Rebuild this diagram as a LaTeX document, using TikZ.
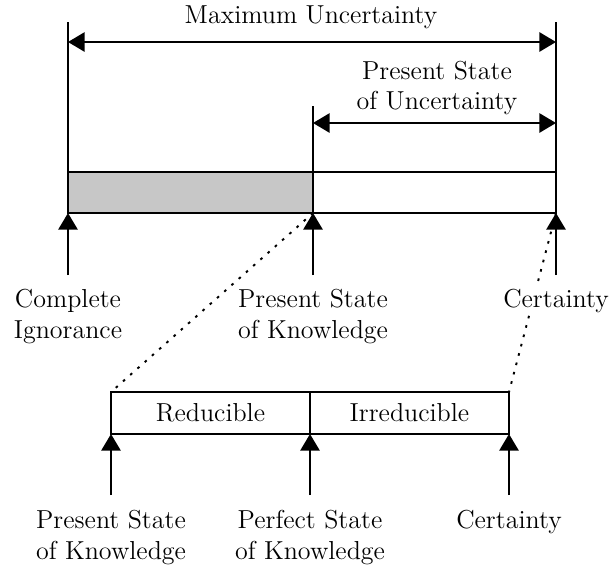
\documentclass[tikz,border=0pt]{standalone}
\usetikzlibrary{arrows.meta,positioning}
\tikzset{
  bar/.style={draw, line width=1.1pt},
  tick/.style={line width=1.1pt},
  span/.style={line width=1.1pt, {Triangle[length=9.5pt,width=11pt]}-{Triangle[length=9.5pt,width=11pt]}},
  up/.style={line width=1.1pt, -{Triangle[length=9.5pt,width=11pt]}},
  zoomline/.style={line width=1.1pt, dash pattern=on 1.5pt off 4pt},
  lbl/.style={align=center, font=\fontsize{14.8}{17.5}\selectfont, inner sep=1pt, fill=white},
}
\begin{document}
\begin{tikzpicture}[x=0.02cm,y=-0.02cm]
      \useasboundingbox (0,0) rectangle (609,565);
      % upper bar
      \coordinate (ci) at (68,213);
      \coordinate (pk) at (313,213);
      \coordinate (ce) at (556,213);
      \fill[black!22] (68,172) rectangle (pk);
      \draw[bar] (68,172) rectangle (ce);
      \draw[bar] (313,172) -- (pk);
      % dimension lines
      \coordinate (ml) at (68,22);
      \coordinate (mr) at (556,22);
      \coordinate (pm) at (313,106);
      \draw[tick] (68,172) -- (ml);
      \draw[tick] (556,172) -- (mr);
      \draw[tick] (313,172) -- (pm);
      \draw[span] (68,42) -- (556,42);
      \draw[span] (313,123) -- (556,123);
      \node[lbl] (maxunc) at (311,17) {Maximum Uncertainty};
      \node[lbl] (presunc) at (437,88) {Present State\\of Uncertainty};
      % lower bar
      \coordinate (lpk) at (111,434);
      \coordinate (lpf) at (310,434);
      \coordinate (lce) at (509,434);
      \coordinate (ltl) at (111,392);
      \coordinate (ltr) at (509,392);
      \draw[zoomline] (pk) -- (ltl);
      \draw[zoomline] (ce) -- (ltr);
      \draw[bar] (ltl) rectangle (lce);
      \draw[bar] (310,392) -- (lpf);
      \node[lbl] (reduc) at (210.5,413) {Reducible};
      \node[lbl] (irreduc) at (409.5,413) {Irreducible};
      % pointers to upper bar
      \draw[up] (68,275) -- (ci);
      \draw[up] (313,275) -- (pk);
      \draw[up] (556,275) -- (ce);
      \node[lbl,anchor=north] (complign) at (68,287) {Complete\\Ignorance};
      \node[lbl,anchor=north] (presknow) at (313,287) {Present State\\of Knowledge};
      \node[lbl,anchor=north] (cert) at (556,287) {Certainty};
      % pointers to lower bar
      \draw[up] (111,495) -- (lpk);
      \draw[up] (310,495) -- (lpf);
      \draw[up] (509,495) -- (lce);
      \node[lbl,anchor=north] (lowpresknow) at (111,508) {Present State\\of Knowledge};
      \node[lbl,anchor=north] (perfknow) at (310,508) {Perfect State\\of Knowledge};
      \node[lbl,anchor=north] (lowcert) at (509,508) {Certainty};
\end{tikzpicture}
\end{document}
